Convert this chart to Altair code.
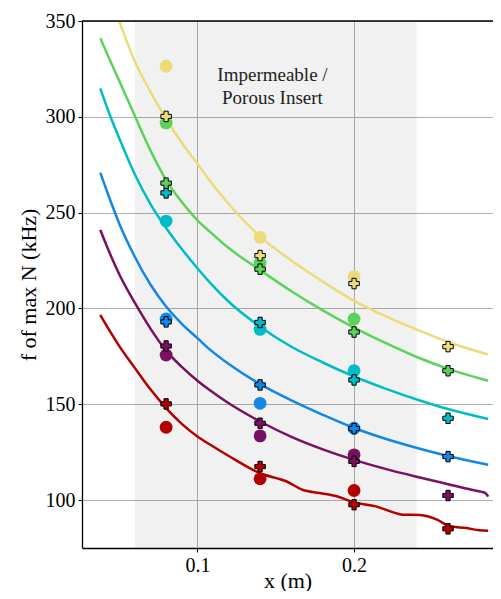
import altair as alt
import pandas as pd

# ---------------- data ----------------
series_names = ["red", "purple", "blue", "cyan", "green", "yellow"]
series_colors = ["#B30000", "#7A1060", "#1287E6", "#00BCC8", "#5BD35B", "#ECDB7A"]

grid_x = [0.038, 0.045, 0.05, 0.06, 0.07, 0.08, 0.09, 0.1, 0.108, 0.12,
          0.14, 0.16, 0.18, 0.2, 0.22, 0.242, 0.26, 0.2856]
yellow_curve = [377, 361, 350, 329, 313, 299, 286.5, 275.5, 266.5, 254.5,
                237.5, 225, 214, 204, 196, 188.3, 182.5, 176]
green_curve = [341, 328, 319, 300.5, 282.5, 267, 255.5, 246, 240, 231.5,
               220, 209, 199, 190, 182, 174, 168.5, 162.3]
cyan_curve = [314.8, 299, 289, 270, 254.5, 242, 231, 221, 213.5, 203.5,
              190.5, 180, 171.8, 164.5, 158.2, 152, 147.5, 142.3]
blue_curve = [270.8, 255, 244.5, 227, 212.5, 201, 192, 184.5, 178.5, 171,
              160.5, 152, 144.5, 137.6, 132, 126.8, 123, 118.4]

purple_x = [0.038, 0.045, 0.05, 0.06, 0.07, 0.08, 0.09, 0.1, 0.108, 0.12,
            0.14, 0.16, 0.18, 0.2, 0.22, 0.242, 0.26, 0.275, 0.281, 0.284, 0.2856]
purple_curve = [241, 227, 218, 203, 189.5, 178, 169.5, 162.3, 157.3, 150.5,
                141, 133, 126.5, 121, 116.3, 111.8, 108.3, 105.4, 104.4, 103.6, 101.8]

red_x = [0.038, 0.045, 0.05, 0.06, 0.07, 0.08, 0.09, 0.1, 0.108, 0.12,
         0.14, 0.157, 0.167, 0.178, 0.189, 0.2, 0.214, 0.225, 0.231, 0.242,
         0.253, 0.261, 0.272, 0.28, 0.2856]
red_curve = [196.6, 187, 180.5, 169, 157.8, 148, 139.8, 133.2, 129, 123,
             114, 109.7, 105.4, 103.7, 102, 98.8, 96.7, 93.6, 92.4, 92.2,
             89.8, 86.3, 85.4, 84.2, 84]

circle_x = [0.08, 0.14, 0.2]
circle_red = [138, 111.1, 105]
circle_purple = [175.7, 133.5, 123.6]
circle_blue = [194.5, 150.5, 137.5]
circle_cyan = [245.6, 189.1, 167.5]
circle_green = [296.8, 223.7, 194.5]
circle_yellow = [326.4, 237.1, 216.6]

plus_x = [0.08, 0.14, 0.2, 0.26]
plus_red = [150.2, 117.5, 97.6, 85]
plus_purple = [180.4, 140.1, 120.2, 102.4]
plus_blue = [193, 160.1, 137.3, 122.7]
plus_cyan = [260.3, 192.7, 162.7, 142.7]
plus_green = [265.4, 220.5, 187.7, 167.5]
plus_yellow = [300.2, 227.6, 213, 180.1]

band_start = [0.06]
band_end = [0.24]

note_x = [0.1479]
note_y = [321.7]
note_text = ["Impermeable /\nPorous Insert"]

x_ticks = [0.1, 0.2]
y_ticks = [100, 150, 200, 250, 300, 350]
x_domain = [0.0263, 0.2887]
y_domain = [75, 350]

# ---------------- tables ----------------
curve_sets = [
    ("red", red_x, red_curve),
    ("purple", purple_x, purple_curve),
    ("blue", grid_x, blue_curve),
    ("cyan", grid_x, cyan_curve),
    ("green", grid_x, green_curve),
    ("yellow", grid_x, yellow_curve),
]
curves = pd.DataFrame(
    [{"series": s, "x": xv, "y": yv} for s, xs_, ys_ in curve_sets for xv, yv in zip(xs_, ys_)]
)

circle_sets = [("red", circle_red), ("purple", circle_purple), ("blue", circle_blue),
               ("cyan", circle_cyan), ("green", circle_green), ("yellow", circle_yellow)]
circles = pd.DataFrame(
    [{"series": s, "x": xv, "y": yv} for s, ys_ in circle_sets for xv, yv in zip(circle_x, ys_)]
)

plus_sets = [("red", plus_red), ("purple", plus_purple), ("blue", plus_blue),
             ("cyan", plus_cyan), ("green", plus_green), ("yellow", plus_yellow)]
pluses = pd.DataFrame(
    [{"series": s, "x": xv, "y": yv} for s, ys_ in plus_sets for xv, yv in zip(plus_x, ys_)]
)

band = pd.DataFrame({"x0": band_start, "x1": band_end})
note = pd.DataFrame({"x": note_x, "y": note_y, "t": note_text})

W, H = 411, 527
FONT = "Liberation Serif"

xs = alt.Scale(domain=x_domain, nice=False, zero=False)
ys = alt.Scale(domain=y_domain, nice=False, zero=False)
cs = alt.Scale(domain=series_names, range=series_colors)

x_axis = alt.Axis(values=x_ticks, format=".1f", title="x (m)", grid=True)
y_axis = alt.Axis(values=y_ticks, format="d", title="f of max N (kHz)", grid=True)

band_layer = alt.Chart(band).mark_rect(color="black", opacity=0.055).encode(
    x=alt.X("x0:Q", scale=xs, axis=x_axis),
    x2="x1:Q",
    y=alt.value(0),
    y2=alt.value(H),
)

line_layer = alt.Chart(curves).mark_line(strokeWidth=2.5, clip=True, interpolate="monotone").encode(
    x=alt.X("x:Q", scale=xs, axis=x_axis),
    y=alt.Y("y:Q", scale=ys, axis=y_axis),
    color=alt.Color("series:N", scale=cs, legend=None),
    detail="series:N",
)

circle_layer = alt.Chart(circles).mark_point(shape="circle", filled=True, size=165, opacity=1).encode(
    x=alt.X("x:Q", scale=xs),
    y=alt.Y("y:Q", scale=ys),
    color=alt.Color("series:N", scale=cs, legend=None),
)

plus_layer = alt.Chart(pluses).mark_point(
    shape="cross", filled=True, size=110, opacity=1, stroke="black", strokeWidth=1
).encode(
    x=alt.X("x:Q", scale=xs),
    y=alt.Y("y:Q", scale=ys),
    fill=alt.Fill("series:N", scale=cs, legend=None),
)

note_layer = alt.Chart(note).mark_text(
    font=FONT, fontSize=19, color="#222222", align="center", baseline="middle",
    lineBreak="\n", lineHeight=23
).encode(
    x=alt.X("x:Q", scale=xs),
    y=alt.Y("y:Q", scale=ys),
    text="t:N",
)

top_spine = alt.Chart(alt.Data(values=[{}])).mark_rule(color="black", strokeWidth=1.3).encode(
    x=alt.value(0), x2=alt.value(W), y=alt.value(0)
)

chart = alt.layer(
    band_layer, line_layer, circle_layer, plus_layer, note_layer, top_spine
).properties(
    width=W,
    height=H,
    autosize=alt.AutoSizeParams(type="none"),
    padding={"left": 74, "top": 13, "right": 0, "bottom": 43},
).configure_view(
    stroke="transparent"
).configure_axis(
    labelFont=FONT,
    labelFontSize=20,
    labelColor="black",
    titleFont=FONT,
    titleFontSize=22,
    titleFontWeight="normal",
    titleColor="black",
    domainColor="black",
    domainWidth=1.3,
    tickColor="black",
    tickWidth=1,
    tickSize=4,
    gridColor="#b0b0b0",
    gridWidth=1,
    labelPadding=3,
).configure_axisX(
    titlePadding=-5,
    labelFlush=False,
).configure_axisY(
    titlePadding=5,
)

chart.save("out.html", embed_options={"renderer": "svg", "actions": False})
